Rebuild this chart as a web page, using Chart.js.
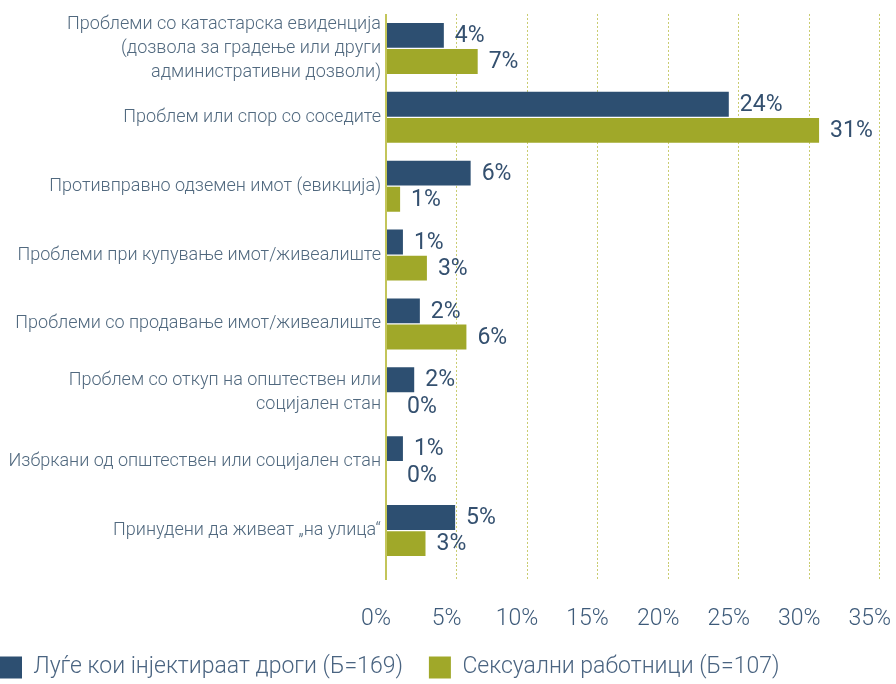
<!DOCTYPE html>
<html>
<head>
<meta charset="utf-8">
<script src="https://cdn.jsdelivr.net/npm/chart.js@4"></script>
<style>
  html, body { margin: 0; padding: 0; background: #fff; overflow: hidden; }
  #wrap { position: absolute; left: -26px; top: -3px; width: 952px; height: 692px; }
</style>
</head>
<body>
<div id="wrap"><canvas id="chart"></canvas></div>
<script>
// categories, top to bottom
const categories = [
    ["Проблеми со катастарска евиденција", "(дозвола за градење или други", "административни дозволи)"],
    "Проблем или спор со соседите",
    "Противправно одземен имот (евикција)",
    "Проблеми при купување имот/живеалиште",
    "Проблеми со продавање имот/живеалиште",
    ["Проблем со откуп на општествен или", "социјален стан"],
    "Избркани од општествен или социјален стан",
    "Принудени да живеат „на улица“"
];
const seriesNames = ["Луѓе кои інјектираат дроги (Б=169)", "Сексуални работници (Б=107)"];
const drugUsers = [4.1, 24.3, 6.0, 1.2, 2.4, 2.0, 1.2, 4.9];
const sexWorkers = [6.5, 30.7, 1.0, 2.9, 5.7, 0, 0, 2.8];
const xTicks = [0, 5, 10, 15, 20, 25, 30, 35];

const NAVY = '#2d4f71';
const OLIVE = '#a0a829';
const FONT = 'Roboto, "DejaVu Sans", sans-serif';

// value labels next to each bar
const valueLabels = {
    id: 'valueLabels',
    afterDatasetsDraw(chart) {
        const ctx = chart.ctx;
        const base = chart.scales.x.getPixelForValue(0);
        ctx.save();
        ctx.font = '400 23px ' + FONT;
        ctx.fillStyle = '#34506f';
        ctx.textAlign = 'left';
        ctx.textBaseline = 'middle';
        chart.data.datasets.forEach((ds, di) => {
            chart.getDatasetMeta(di).data.forEach((bar, i) => {
                const x = Math.max(bar.x + 11, base + 21);
                ctx.fillText(Math.round(ds.data[i]) + '%', x, bar.y + 1);
            });
        });
        ctx.restore();
    }
};

const isZero = c => c.tick && c.tick.value === 0;

new Chart(document.getElementById('chart'), {
    type: 'bar',
    data: {
        labels: categories,
        datasets: [
            { label: seriesNames[0], data: drugUsers, backgroundColor: NAVY },
            { label: seriesNames[1], data: sexWorkers, backgroundColor: OLIVE }
        ]
    },
    options: {
        indexAxis: 'y',
        responsive: true,
        maintainAspectRatio: false,
        animation: false,
        layout: { padding: { top: 0, right: 0, bottom: 0, left: 0 } },
        datasets: { bar: { categoryPercentage: 0.76, barPercentage: 0.95 } },
        scales: {
            x: {
                min: 0, max: 35,
                afterBuildTicks(scale) { scale.ticks = xTicks.map(v => ({ value: v })); },
                afterFit(scale) { scale.height = 65; },
                ticks: {
                    callback: v => v + '%',
                    color: '#3d5a79',
                    font: { family: FONT, size: 23, weight: '300' },
                    padding: 25,
                    labelOffset: -10,
                    maxRotation: 0
                },
                grid: {
                    color: c => isZero(c) ? '#c3c55a' : '#c9cc70',
                    lineWidth: c => isZero(c) ? 2 : 1,
                    tickColor: c => isZero(c) ? '#c3c55a' : '#c9cc70',
                    tickWidth: c => isZero(c) ? 2 : 1,
                    tickBorderDash: c => isZero(c) ? [] : [2, 2],
                    tickLength: 15
                },
                border: {
                    display: false,
                    dash: c => isZero(c) ? [] : [2, 2]
                }
            },
            y: {
                afterFit(scale) { scale.width = 412; },
                ticks: {
                    autoSkip: false,
                    color: '#51697f',
                    font: { family: FONT, size: 18, weight: '300', lineHeight: 1.33 },
                    padding: 5
                },
                grid: { display: false, drawTicks: false },
                border: { display: false }
            }
        },
        plugins: {
            legend: {
                position: 'bottom',
                align: 'start',
                labels: {
                    boxWidth: 22,
                    boxHeight: 22,
                    padding: 26,
                    color: '#4a6481',
                    font: { family: FONT, size: 23, weight: '300' }
                }
            },
            tooltip: { enabled: false }
        }
    },
    plugins: [valueLabels]
});
</script>
</body>
</html>
